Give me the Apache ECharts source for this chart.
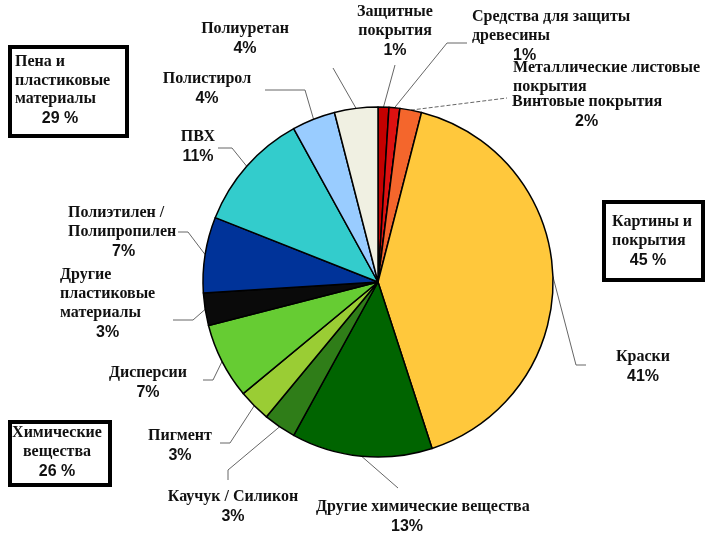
<!DOCTYPE html>
<html>
<head>
<meta charset="utf-8">
<script src="https://cdn.jsdelivr.net/npm/echarts@6/dist/echarts.min.js"></script>
<style>
html,body{margin:0;padding:0;background:#fff;}
#chart{width:709px;height:542px;}
</style>
</head>
<body>
<div id="chart"></div>
<script>
// ---- data ----
const categories = [
  'Защитные\nпокрытия',
  'Средства для защиты\nдревесины',
  'Металлические листовые\nпокрытия',
  'Винтовые покрытия',
  'Краски',
  'Другие химические вещества',
  'Каучук / Силикон',
  'Пигмент',
  'Дисперсии',
  'Другие\nпластиковые\nматериалы',
  'Полиэтилен /\nПолипропилен',
  'ПВХ',
  'Полистирол',
  'Полиуретан'
];
const values = [1, 1, 0, 2, 41, 13, 3, 3, 7, 3, 7, 11, 4, 4];
const showPercent = [true, true, false, true, true, true, true, true, true, true, true, true, true, true];

const groupNames = ['Пена и\nпластиковые\nматериалы', 'Картины и\nпокрытия', 'Химические\nвещества'];
const groupValues = [29, 45, 26];

// ---- styles ----
const colors = ['#c40000', '#dd1111', '#ff7a3a', '#f4662c', '#ffc83c', '#006400', '#2f7d18',
  '#9acd34', '#66cc33', '#0a0a0a', '#003399', '#33cccc', '#99ccff', '#f0f0e2'];

// label placement (anchor of label block top) and leader line bend/end points
const labelCfg = [
  {x: 395, y: 2,   align: 'center', line: [[395, 65]]},
  {x: 472, y: 7,   align: 'left', pDx: 41, line: [[447, 43], [467, 43]]},
  {x: 513, y: 58,  align: 'left', line: null},
  {x: 512, y: 92,  align: 'left', pDx: 63, line: [[507, 98]], dashed: true},
  {x: 643, y: 347, align: 'center', line: [[576, 365], [586, 365]]},
  {x: 316, y: 497, align: 'left', pDx: 75, line: [[398, 488]]},
  {x: 233, y: 487, align: 'center', line: [[228, 470], [228, 480]]},
  {x: 180, y: 426, align: 'center', line: [[230, 443], [220, 443]]},
  {x: 148, y: 363, align: 'center', line: [[213, 380], [203, 380]]},
  {x: 60,  y: 265, align: 'left', pDx: 36, line: [[193, 320], [173, 320]]},
  {x: 68,  y: 203, align: 'left', pDx: 44, line: [[188, 232], [178, 232]]},
  {x: 198, y: 127, align: 'center', line: [[232, 148], [218, 148]]},
  {x: 207, y: 69,  align: 'center', line: [[305, 90], [265, 90]]},
  {x: 245, y: 19,  align: 'center', line: [[333, 68]]}
];

const groupBoxes = [
  {x: 10, y: 47, w: 117, h: 89, tx: 15, ty: 53, align: 'left', px: 60},
  {x: 604, y: 202, w: 99, h: 78, tx: 612, ty: 213, align: 'left', px: 648},
  {x: 10, y: 422, w: 100, h: 63, tx: 57, ty: 424, align: 'center', px: 57}
];

const serif = '"Liberation Serif", "DejaVu Serif", serif';
const sans = '"Liberation Sans", Arial, sans-serif';

const pieData = categories.map((name, i) => {
  const cfg = labelCfg[i];
  const nameLines = name.split('\n').map(l => '{n|' + l + '}').join('\n');
  const text = showPercent[i] ? nameLines + '\n{p|' + values[i] + '%}' : nameLines;
  return {
    name: name,
    value: values[i],
    itemStyle: {color: colors[i]},
    label: {
      formatter: text,
      rich: {
        p: {
          fontFamily: sans, fontWeight: 'bold', fontSize: 16, lineHeight: 21, color: '#111',
          align: cfg.align,
          padding: [0, 0, 0, cfg.pDx || 0]
        }
      }
    },
    labelLine: {
      show: !!cfg.line,
      lineStyle: {type: cfg.dashed ? 'dashed' : 'solid'}
    }
  };
});

const graphics = [];
groupBoxes.forEach((b, i) => {
  graphics.push({
    type: 'rect', left: b.x - 2, top: b.y - 2,
    shape: {x: 0, y: 0, width: b.w, height: b.h},
    style: {fill: '#fff', stroke: '#000', lineWidth: 4}
  });
  graphics.push({
    type: 'text', x: b.tx, y: b.ty,
    style: {
      text: groupNames[i], font: 'bold 16px ' + serif, fill: '#111',
      textAlign: b.align, lineHeight: 18.5
    }
  });
  const lines = groupNames[i].split('\n').length;
  graphics.push({
    type: 'text', x: b.px, y: b.ty + lines * 18.5 + 2.5,
    style: {
      text: groupValues[i] + ' %', font: 'bold 16px ' + sans, fill: '#111',
      textAlign: 'center'
    }
  });
});

const chart = echarts.init(document.getElementById('chart'), null, {renderer: 'canvas'});
chart.setOption({
  backgroundColor: '#fff',
  animation: false,
  graphic: graphics,
  series: [{
    type: 'pie',
    center: [378, 282],
    radius: 175,
    startAngle: 90,
    clockwise: true,
    avoidLabelOverlap: false,
    silent: true,
    itemStyle: {borderColor: '#000', borderWidth: 1.5},
    label: {
      show: true,
      position: 'outside',
      color: '#111',
      rich: {
        n: {fontFamily: serif, fontWeight: 'bold', fontSize: 16, lineHeight: 19, color: '#111'}
      }
    },
    labelLine: {
      show: true,
      length: 10, length2: 10,
      lineStyle: {color: '#666', width: 1}
    },
    labelLayout: function (params) {
      const cfg = labelCfg[params.dataIndex];
      const out = {x: cfg.x, y: cfg.y, align: cfg.align, verticalAlign: 'top'};
      if (cfg.line && params.labelLinePoints) {
        const p0 = params.labelLinePoints[0];
        const pts = [p0].concat(cfg.line);
        while (pts.length < 3) pts.push(pts[pts.length - 1]);
        out.labelLinePoints = pts;
      }
      return out;
    },
    data: pieData
  }]
});
</script>
</body>
</html>
